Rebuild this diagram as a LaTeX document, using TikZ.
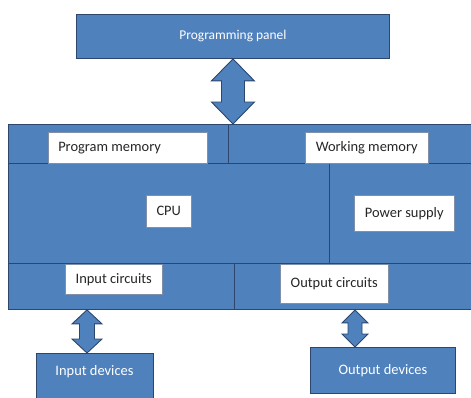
\documentclass[tikz,border=0pt]{standalone}
\usepackage{fontspec}
\setmainfont{Carlito}
\usetikzlibrary{calc}
\definecolor{blk}{RGB}{79,129,189}
\definecolor{bdr}{RGB}{44,70,110}
\tikzset{
  bbox/.style={draw=bdr, fill=blk, line width=0.9pt, anchor=north west, inner sep=0pt, text=white, font=\fontsize{13.5}{15}\selectfont},
  wbox/.style={draw=bdr!60, fill=white, line width=0.5pt, anchor=north west, inner sep=0pt, text=black!85, font=\fontsize{14.5}{16}\selectfont},
  darrow/.style={draw=bdr, fill=blk, line width=0.9pt, line join=miter}
}
\newcommand\vdarrow[5]{%
  \draw[darrow] let \p1=(#1), \p2=(#2) in
    (\x1,\y1) -- (\x1+#3bp,\y1-#5bp) -- (\x1+#4bp,\y1-#5bp) -- (\x1+#4bp,\y2+#5bp)
    -- (\x1+#3bp,\y2+#5bp) -- (\x1,\y2) -- (\x1-#3bp,\y2+#5bp) -- (\x1-#4bp,\y2+#5bp)
    -- (\x1-#4bp,\y1-#5bp) -- (\x1-#3bp,\y1-#5bp) -- cycle;}
\begin{document}
\begin{tikzpicture}[x=1bp,y=-1bp]
\useasboundingbox (0,0) rectangle (471,397);
% programming panel
\node[bbox, minimum width=313bp, minimum height=44bp] (panel) at (76,14) {Programming panel};
% main block
\node[bbox, minimum width=220bp, minimum height=39bp] (tl) at (8,124) {};
\node[bbox, minimum width=248bp, minimum height=39bp] (tr) at (228,124) {};
\node[bbox, minimum width=321bp, minimum height=100bp] (ml) at (8,163) {};
\node[bbox, minimum width=147bp, minimum height=100bp] (mr) at (329,163) {};
\node[bbox, minimum width=226bp, minimum height=46bp] (bl) at (8,263) {};
\node[bbox, minimum width=242bp, minimum height=46bp] (br) at (234,263) {};
% white labels
\node[wbox, minimum width=159bp, minimum height=31bp] (pm) at (48,132) {\makebox[139bp][l]{Program memory}};
\node[wbox, minimum width=123bp, minimum height=31bp] (wm) at (305,132) {Working memory};
\node[wbox, minimum width=45bp, minimum height=32bp] (cpu) at (146,195) {CPU};
\node[wbox, minimum width=100bp, minimum height=36bp] (ps) at (354,195) {Power supply};
\node[wbox, minimum width=97bp, minimum height=30bp] (ic) at (65,264) {Input circuits};
\node[wbox, minimum width=108bp, minimum height=39bp] (oc) at (280,264) {Output circuits};
% devices
\node[bbox, minimum width=117bp, minimum height=50bp] (indev) at (36,353) {};
\node[text=white, font=\fontsize{14.5}{16}\selectfont] (indevt) at (94.5,372) {Input devices};
\node[bbox, minimum width=145bp, minimum height=46bp, font=\fontsize{14.5}{16}\selectfont] (outdev) at (310,347) {Output devices};
% double arrows
\vdarrow{panel.south}{tl.north east}{21.5}{11.5}{22}
\vdarrow{$(bl.south west)+(79,0)$}{indev.north}{15}{7.5}{14}
\vdarrow{$(br.south west)+(121,0)$}{outdev.north}{13}{7}{13}
\end{tikzpicture}
\end{document}
